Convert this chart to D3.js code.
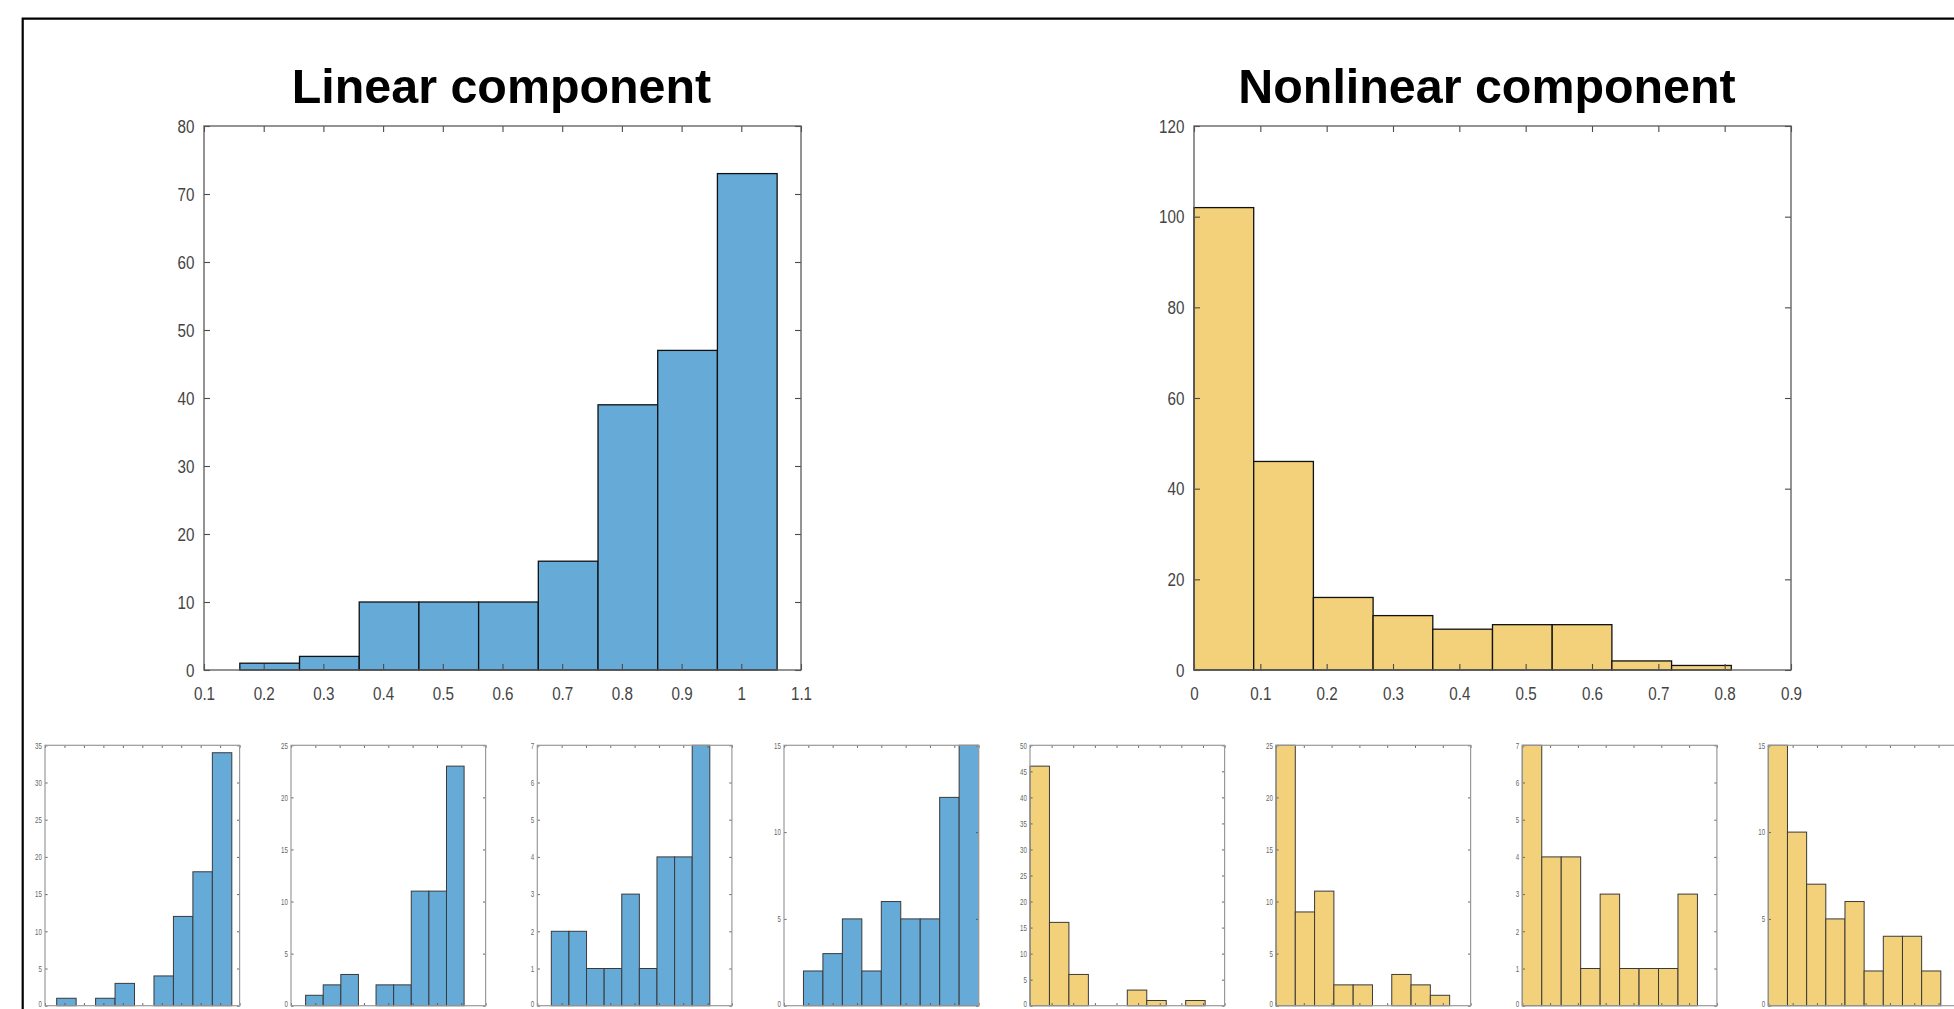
<!DOCTYPE html>
<html><head><meta charset="utf-8">
<script src="https://cdn.jsdelivr.net/npm/d3@7"></script>
<style>
html,body{margin:0;padding:0;background:#fff;overflow:hidden;}
svg{display:block;}
text{font-family:"Liberation Sans",Arial,Helvetica,sans-serif;}
</style></head><body>
<svg id="chart" width="1954" height="1009"></svg>
<script>
// ---------- DATA ----------
const titles = ["Linear component", "Nonlinear component"];

const linearCounts = [1, 2, 10, 10, 10, 16, 39, 47, 73];
const linearBinStart = 0.16;
const linearBinWidth = 0.1;
const linearXTicks = [0.1, 0.2, 0.3, 0.4, 0.5, 0.6, 0.7, 0.8, 0.9, 1.0, 1.1];
const linearYTicks = [0, 10, 20, 30, 40, 50, 60, 70, 80];

const nonlinearCounts = [102, 46, 16, 12, 9, 10, 10, 2, 1];
const nonlinearBinStart = 0;
const nonlinearBinWidth = 0.09;
const nonlinearXTicks = [0, 0.1, 0.2, 0.3, 0.4, 0.5, 0.6, 0.7, 0.8, 0.9];
const nonlinearYTicks = [0, 20, 40, 60, 80, 100, 120];

// small multiples (per subgroup)
const subLinearCounts = [
  [1, 0, 1, 3, 0, 4, 12, 18, 34],
  [1, 2, 3, 0, 2, 2, 11, 11, 23],
  [2, 2, 1, 1, 3, 1, 4, 4, 7],
  [2, 3, 5, 2, 6, 5, 5, 12, 15]
];
const subLinearBinStart = [0.16, 0.26, 0.2576, 0.38];
const subLinearBinWidth = [0.1, 0.0724, 0.0724, 0.08];
const subLinearXDomain = [[0.1, 1.1], [0.2, 1.0], [0.2, 1.0], [0.3, 1.1]];
const subLinearYMax = [35, 25, 7, 15];
const subLinearYStep = [5, 5, 1, 5];

const subNonlinearCounts = [
  [46, 16, 6, 0, 0, 3, 1, 0, 1],
  [25, 9, 11, 2, 2, 0, 3, 2, 1],
  [7, 4, 4, 1, 3, 1, 1, 1, 3],
  [15, 10, 7, 5, 6, 2, 4, 4, 2]
];
const subNonlinearBinStart = [0, 0, 0, 0];
const subNonlinearBinWidth = [0.09, 0.0694, 0.07, 0.0788];
const subNonlinearXDomain = [[0, 0.9], [0, 0.7], [0, 0.7], [0, 0.8]];
const subNonlinearYMax = [50, 25, 7, 15];
const subNonlinearYStep = [5, 5, 1, 5];

// ---------- STYLE / LAYOUT ----------
const BLUE = "#66aad7";
const YELLOW = "#f3d07a";

const svg = d3.select("#chart");

// outer frame
svg.append("path")
  .attr("d", "M22.7,1030 V18.7 H1980")
  .attr("fill", "none").attr("stroke", "#000").attr("stroke-width", 2.2);

const fmt = d => String(+(+d).toFixed(2));

function drawHist(cfg) {
  const {x0, x1, y0, y1, xDomain, yMax, xTicks, yTicks, counts, binStart, binWidth,
         fill, big} = cfg;
  const g = svg.append("g");
  const x = d3.scaleLinear().domain(xDomain).range([x0, x1]);
  const y = d3.scaleLinear().domain([0, yMax]).range([y1, y0]);
  const tl = big ? 6 : 2.6;

  // bars
  g.selectAll("rect.bar")
    .data(counts.map((c, i) => ({c, i})).filter(d => d.c > 0))
    .join("rect")
    .attr("class", "bar")
    .attr("x", d => x(binStart + d.i * binWidth))
    .attr("width", d => x(binStart + (d.i + 1) * binWidth) - x(binStart + d.i * binWidth))
    .attr("y", d => y(d.c))
    .attr("height", d => y(0) - y(d.c))
    .attr("fill", fill)
    .attr("stroke", big ? "#111" : "#3a3a3a")
    .attr("stroke-width", big ? 1.3 : 1);

  const axisColor = big ? "#5a5a5a" : "#9a9a9a";
  const tickColor = big ? "#4a4a4a" : "#555";
  const fs = big ? 19 : 8.8;
  const sx = big ? 0.8 : 0.7;

  function style(sel, withText) {
    sel.select(".domain").remove();
    sel.selectAll(".tick line").attr("stroke", tickColor).attr("stroke-width", big ? 1.1 : 0.9);
    if (withText) {
      sel.selectAll(".tick text")
        .attr("fill", big ? "#444" : "#666")
        .style("font-size", fs + "px")
        .attr("transform", `scale(${sx},1)`);
    } else {
      sel.selectAll(".tick text").remove();
    }
  }

  // bottom axis
  const gb = g.append("g").attr("transform", `translate(0,${y1})`)
    .call(d3.axisBottom(x).tickValues(xTicks).tickFormat(fmt).tickSizeInner(-tl).tickSizeOuter(0).tickPadding(16.5));
  style(gb, big);
  // top axis
  const gt = g.append("g").attr("transform", `translate(0,${y0})`)
    .call(d3.axisTop(x).tickValues(xTicks).tickSizeInner(-tl).tickSizeOuter(0));
  style(gt, false);
  // left axis
  const gl = g.append("g").attr("transform", `translate(${x0},0)`)
    .call(d3.axisLeft(y).tickValues(yTicks).tickFormat(fmt).tickSizeInner(-tl).tickSizeOuter(0).tickPadding(big ? 12 : 4.5));
  style(gl, true);
  if (!big) {
    // keep the bottom "0" label inside the picture
    gl.selectAll(".tick text").filter(d => d === 0).attr("dy", "0.05em");
  }
  // right axis
  const gr = g.append("g").attr("transform", `translate(${x1},0)`)
    .call(d3.axisRight(y).tickValues(yTicks).tickSizeInner(-tl).tickSizeOuter(0));
  style(gr, false);

  // box
  g.append("rect")
    .attr("x", x0).attr("y", y0).attr("width", x1 - x0).attr("height", y1 - y0)
    .attr("fill", "none").attr("stroke", axisColor).attr("stroke-width", big ? 1.3 : 1.2);
  return g;
}

// main charts
drawHist({x0: 204, x1: 801, y0: 126, y1: 670, xDomain: [0.1, 1.1], yMax: 80,
  xTicks: linearXTicks, yTicks: linearYTicks, counts: linearCounts,
  binStart: linearBinStart, binWidth: linearBinWidth, fill: BLUE, big: true});
drawHist({x0: 1194, x1: 1791, y0: 126, y1: 670, xDomain: [0, 0.9], yMax: 120,
  xTicks: nonlinearXTicks, yTicks: nonlinearYTicks, counts: nonlinearCounts,
  binStart: nonlinearBinStart, binWidth: nonlinearBinWidth, fill: YELLOW, big: true});

// titles
svg.append("text").attr("x", 501.5).attr("y", 102.7).attr("text-anchor", "middle")
  .style("font-size", "48.4px").style("font-weight", "bold").attr("fill", "#000").text(titles[0]);
svg.append("text").attr("x", 1487).attr("y", 103.3).attr("text-anchor", "middle")
  .style("font-size", "48.4px").style("font-weight", "bold").attr("fill", "#000").text(titles[1]);

// small multiples
const smallLefts = [45, 291, 537.3, 784, 1030, 1276, 1522.3, 1768.3];
const smallW = 194.6, smallTop = 745.3, smallBottom = 1005.7;
function ticksFor(dom, step) {
  const out = [];
  for (let v = dom[0]; v <= dom[1] + 1e-9; v += step) out.push(+v.toFixed(4));
  return out;
}
for (let k = 0; k < 4; k++) {
  drawHist({x0: smallLefts[k], x1: smallLefts[k] + smallW, y0: smallTop, y1: smallBottom,
    xDomain: subLinearXDomain[k], yMax: subLinearYMax[k],
    xTicks: ticksFor(subLinearXDomain[k], 0.1), yTicks: ticksFor([0, subLinearYMax[k]], subLinearYStep[k]),
    counts: subLinearCounts[k], binStart: subLinearBinStart[k], binWidth: subLinearBinWidth[k],
    fill: BLUE, big: false});
}
for (let k = 0; k < 4; k++) {
  drawHist({x0: smallLefts[k + 4], x1: smallLefts[k + 4] + smallW, y0: smallTop, y1: smallBottom,
    xDomain: subNonlinearXDomain[k], yMax: subNonlinearYMax[k],
    xTicks: ticksFor(subNonlinearXDomain[k], 0.1), yTicks: ticksFor([0, subNonlinearYMax[k]], subNonlinearYStep[k]),
    counts: subNonlinearCounts[k], binStart: subNonlinearBinStart[k], binWidth: subNonlinearBinWidth[k],
    fill: YELLOW, big: false});
}
</script>
</body></html>
